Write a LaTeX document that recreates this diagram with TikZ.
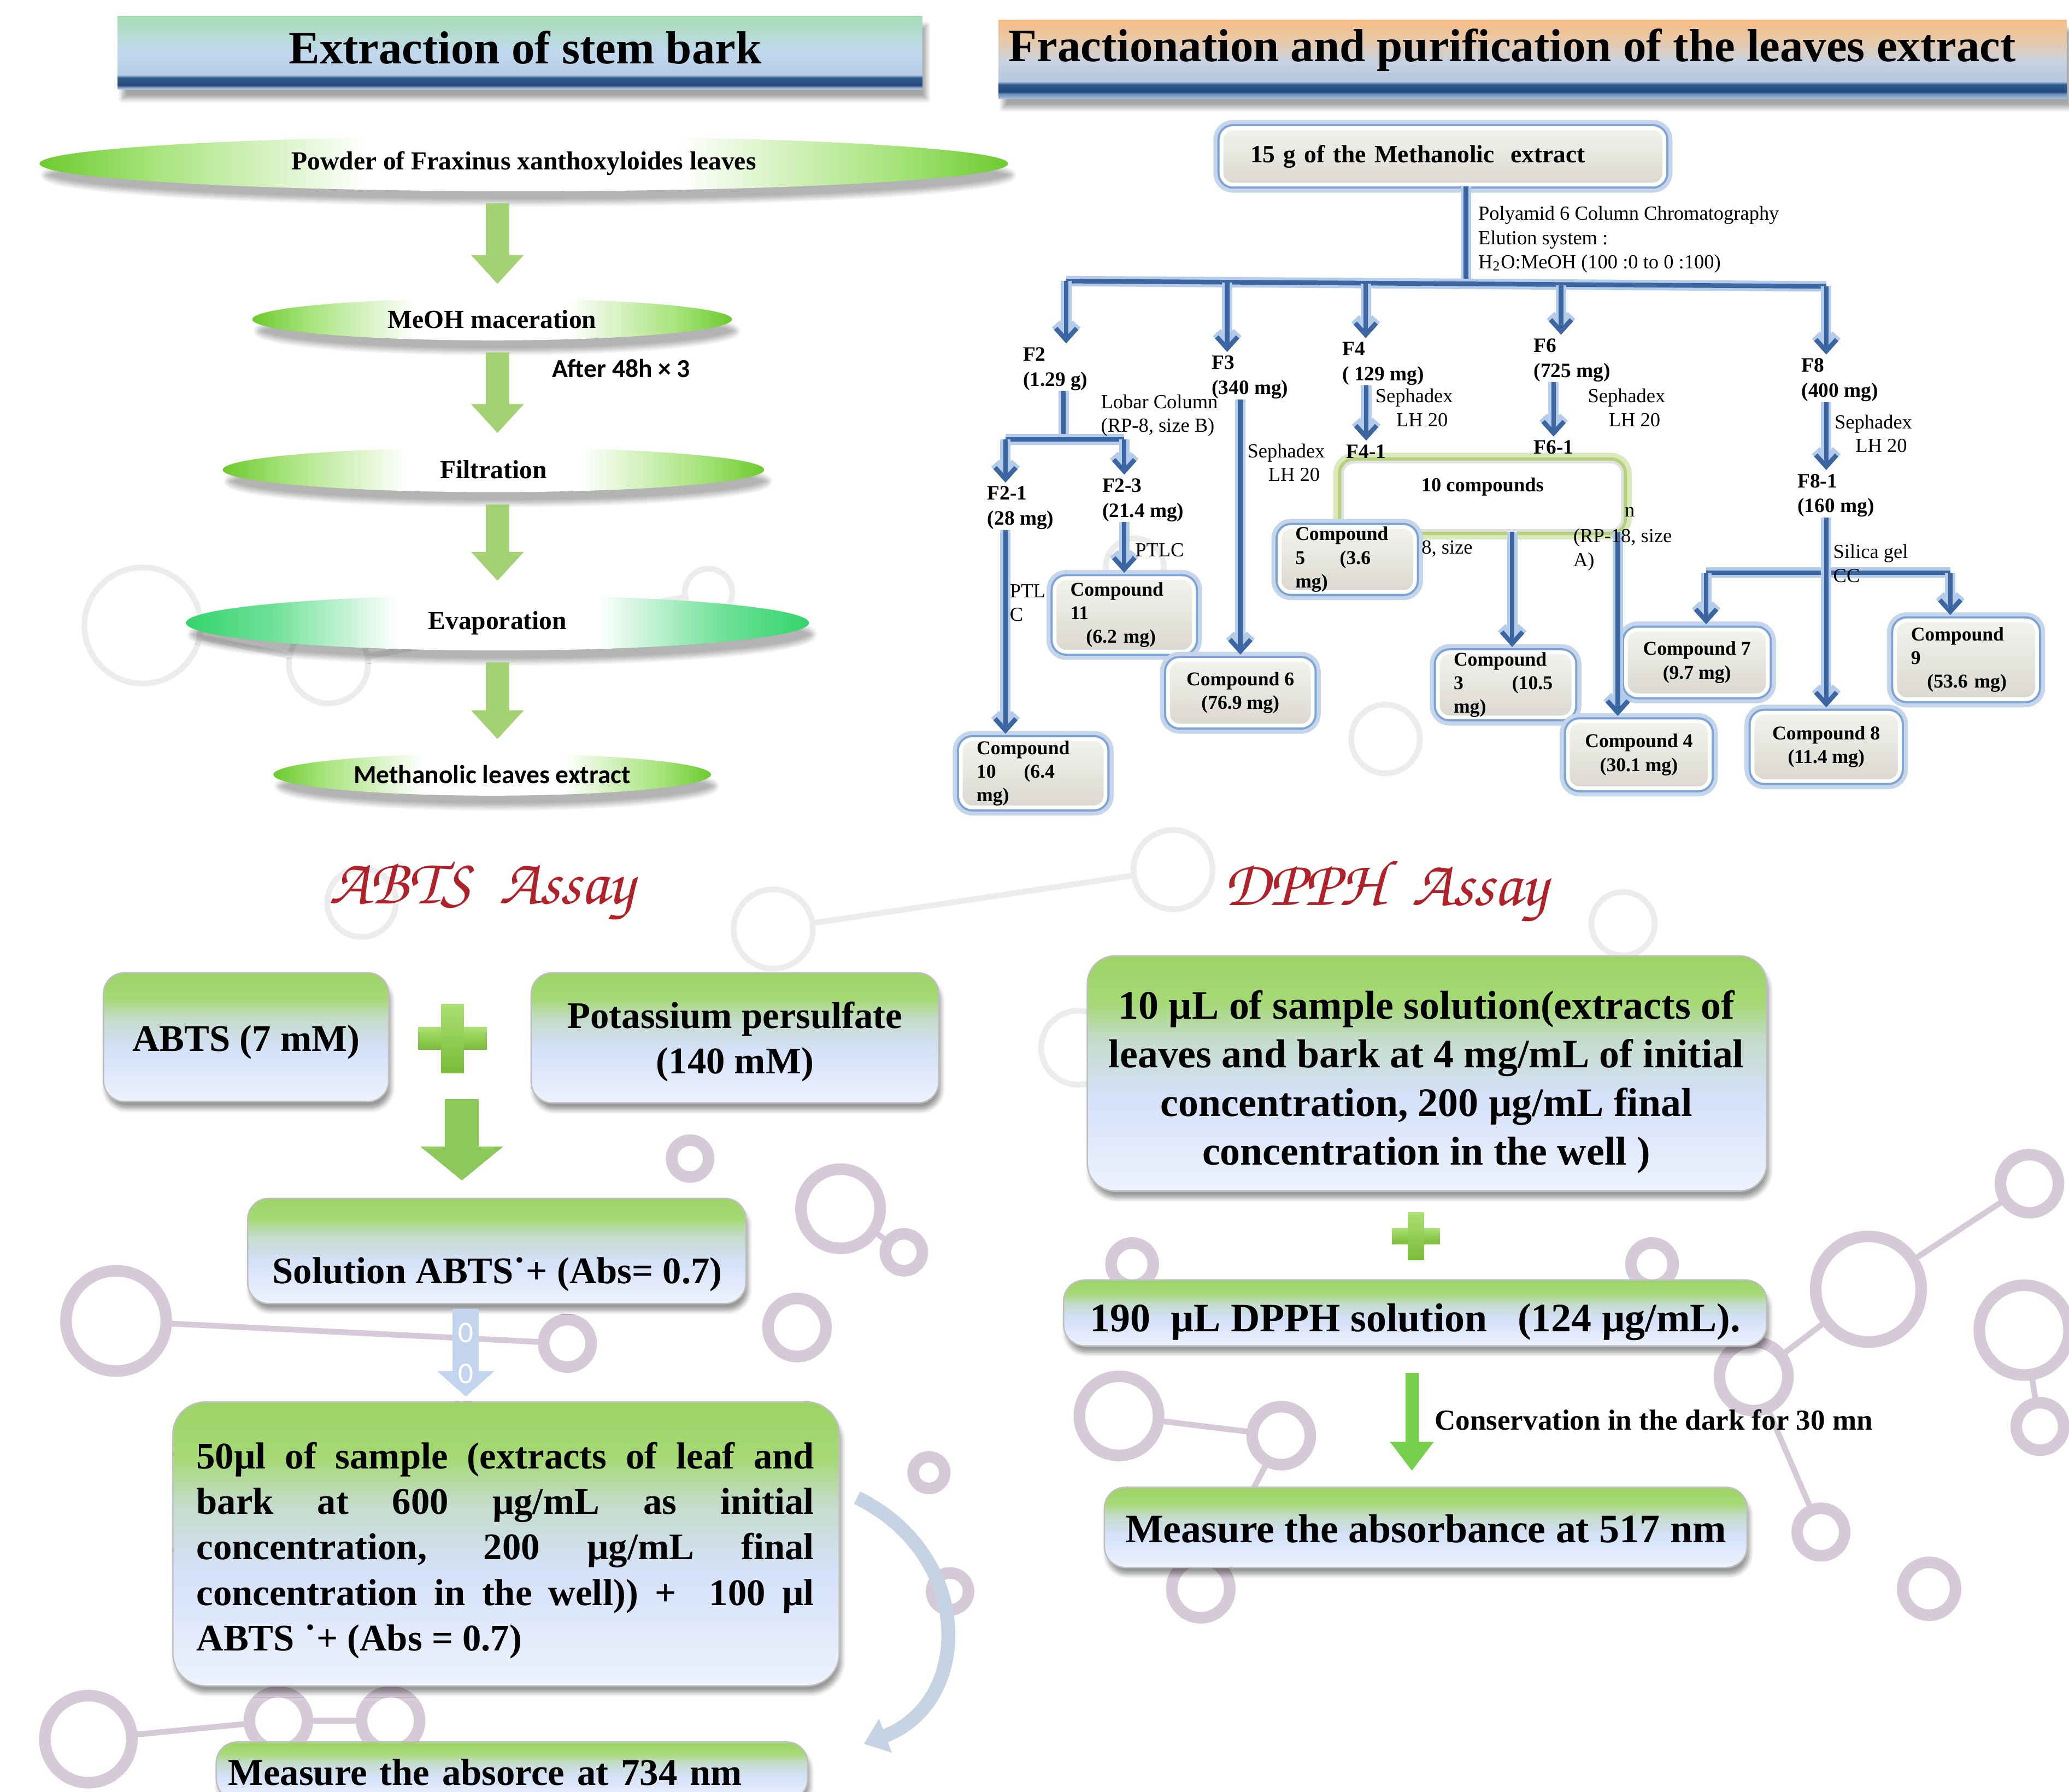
\documentclass[tikz,border=0pt]{standalone}
\usepackage[T1]{fontenc}
\usepackage{fontspec}
\setmainfont{Liberation Serif}
\newfontfamily\calfont{Carlito}
\usetikzlibrary{arrows.meta,shapes.geometric,shadows.blur,calc}
\hbadness=10000

\definecolor{treeblue}{HTML}{3B66A2}
\definecolor{treeglow}{HTML}{B4CBEA}
\definecolor{boxglow}{HTML}{7EA4D4}
\definecolor{tenglow}{HTML}{B5D27A}
\definecolor{cmptop}{HTML}{F3F2ED}
\definecolor{cmpbot}{HTML}{DAD8D0}
\definecolor{leafgreen}{HTML}{8BDB52}
\definecolor{leafdark}{HTML}{6CCB2E}
\definecolor{evapgreen}{HTML}{33D46C}
\definecolor{arrowgreen}{HTML}{A3D173}
\definecolor{bigarrowgreen}{HTML}{8CC85A}
\definecolor{paleblue}{HTML}{C3D5EE}
\definecolor{curveblue}{HTML}{C6D3E3}
\definecolor{plustop}{HTML}{AADF72}
\definecolor{plusbot}{HTML}{79BC38}
\definecolor{assayred}{HTML}{B02229}
\definecolor{ringpurple}{HTML}{D6C9D8}
\definecolor{ringgrey}{HTML}{ECECEC}
\definecolor{gbA}{HTML}{EDF2FD}
\definecolor{gbB}{HTML}{D5E1F9}
\definecolor{gbC}{HTML}{C4DCCB}
\definecolor{gbD}{HTML}{A6D975}
\definecolor{gbE}{HTML}{9CD468}
\definecolor{blA}{HTML}{C3D3E6}
\definecolor{blB}{HTML}{7D9DC6}
\definecolor{blC}{HTML}{24497A}
\definecolor{blD}{HTML}{2F5A8E}
\definecolor{blE}{HTML}{B4CCE6}
\definecolor{blF}{HTML}{C2D9EE}
\definecolor{blG}{HTML}{A7DDB4}
\definecolor{brA}{HTML}{A8C0DE}
\definecolor{brB}{HTML}{6A8DBD}
\definecolor{brC}{HTML}{22487C}
\definecolor{brD}{HTML}{2E5A90}
\definecolor{brE}{HTML}{B5C7DF}
\definecolor{brF}{HTML}{C7D2E2}
\definecolor{brG}{HTML}{E8C9A8}
\definecolor{brH}{HTML}{F6BC86}

\pgfdeclarehorizontalshading{lensshade}{100bp}{color(0bp)=(leafdark); color(25bp)=(leafdark);
  color(31bp)=(leafgreen!75); color(42bp)=(white); color(58bp)=(white);
  color(69bp)=(leafgreen!75); color(75bp)=(leafdark); color(100bp)=(leafdark)}
\pgfdeclarehorizontalshading{lensteal}{100bp}{color(0bp)=(evapgreen); color(25bp)=(evapgreen);
  color(32bp)=(evapgreen!70); color(42bp)=(white); color(58bp)=(white);
  color(68bp)=(evapgreen!70); color(75bp)=(evapgreen); color(100bp)=(evapgreen)}
\pgfdeclareverticalshading{bannerleft}{100bp}{color(0bp)=(blA); color(25bp)=(blA);
  color(26.5bp)=(blB); color(28bp)=(blC); color(33bp)=(blD); color(35bp)=(blE);
  color(50bp)=(blF); color(75bp)=(blG); color(100bp)=(blG)}
\pgfdeclareverticalshading{bannerright}{100bp}{color(0bp)=(brA); color(25bp)=(brA);
  color(28bp)=(brB); color(29.5bp)=(brC); color(34bp)=(brD); color(36bp)=(brE);
  color(48bp)=(brF); color(62bp)=(brG); color(75bp)=(brH); color(100bp)=(brH)}
\pgfdeclareverticalshading{gbshade}{100bp}{color(0bp)=(gbA); color(25bp)=(gbA); color(45bp)=(gbB);
  color(57bp)=(gbC); color(65bp)=(gbD); color(75bp)=(gbE); color(100bp)=(gbE)}

\begin{document}
\begin{tikzpicture}[
  x=0.02cm,y=-0.02cm,
  sz/.style 2 args={minimum width=#1*0.5669pt,minimum height=#2*0.5669pt},
  banner/.style={rectangle,inner sep=0pt,
    blur shadow={shadow xshift=2pt,shadow yshift=-4pt,shadow opacity=35,shadow blur steps=8}},
  title/.style={font=\bfseries\fontsize{20}{24}\selectfont,inner sep=0pt},
  lens/.style={ellipse,shading=lensshade,inner sep=0pt,
    font=\bfseries\fontsize{11.2}{13}\selectfont,
    blur shadow={shadow xshift=2pt,shadow yshift=-5pt,shadow opacity=30,shadow blur steps=8}},
  garrow/.style={draw=arrowgreen,line width=10.2pt,-{Triangle[width=22pt,length=12.5pt]},
    shorten <=5pt,shorten >=6pt},
  tree/.style={draw=treeblue,line width=2pt,preaction={draw=treeglow,line width=4.5pt}},
  treearr/.style={tree,-{Straight Barb[length=5pt,width=9pt]},shorten >=1.5pt},
  cmp/.style={rounded corners=5pt,top color=cmptop,bottom color=cmpbot,draw=white,line width=1.6pt,
    preaction={draw=boxglow!45,line width=7pt},preaction={draw=boxglow,line width=3.5pt},
    inner xsep=6.8pt,inner ysep=0pt,font=\bfseries\fontsize{8.4}{10.2}\selectfont},
  tenbox/.style={rounded corners=5pt,fill=white,draw=black!12,line width=1.2pt,
    preaction={draw=tenglow!50,line width=8pt},preaction={draw=tenglow,line width=4pt},
    inner sep=0pt,font=\bfseries\fontsize{8.6}{10}\selectfont},
  flab/.style={font=\bfseries\fontsize{8.8}{10.8}\selectfont,align=left,inner sep=0pt,anchor=west},
  note/.style={font=\fontsize{8.6}{10.2}\selectfont,align=left,inner sep=0pt,anchor=west},
  gbox/.style={rounded corners=9pt,shading=gbshade,draw=black!25,line width=0.6pt,
    blur shadow={shadow xshift=1pt,shadow yshift=-3pt,shadow opacity=40,shadow blur steps=6},
    align=center,inner sep=0pt,font=\bfseries\fontsize{16.2}{19.6}\selectfont},
  dfont/.style={font=\bfseries\fontsize{17.4}{21}\selectfont},
  boxtext/.style={font=\bfseries\fontsize{16.2}{19.6}\selectfont,inner sep=0pt,align=center},
  assay/.style={font=\fontencoding{T1}\fontfamily{pzc}\fontseries{mb}\fontshape{it}\fontsize{28}{30}\selectfont,
    text=assayred,inner sep=0pt},
  plus/.style={top color=plustop,bottom color=plusbot},
  bigarrow/.style={draw=bigarrowgreen,line width=14.7pt,-{Triangle[width=35pt,length=14.7pt]},shorten >=7.4pt},
  palearrow/.style={draw=paleblue,line width=11.3pt,-{Triangle[width=24pt,length=11pt]},
    shorten <=2pt,shorten >=2pt},
  thinarrow/.style={draw=bigarrowgreen!85!green,line width=5.7pt,-{Triangle[width=18pt,length=12.5pt]},
    shorten <=11.3pt,shorten >=6.8pt},
  curvearrow/.style={draw=curveblue,line width=6pt,-{Triangle[width=15pt,length=10pt]}},
  ringP/.style={draw=ringpurple,line width=5pt},
  ringG/.style={draw=ringgrey,line width=2.5pt}
]
\useasboundingbox (0,0) rectangle (1568,1358);
\clip (0,0) rectangle (1568,1358);

% background molecules
\foreach \x/\y/\r in {108/474/44,249/503/30,537/449/18,586/704/30,274/684/26,889/659/30,
  817/794/28,1230/700/24,1050/560/26,860/430/22}
  \draw[ringG] (\x,\y) circle[radius=\r];
\foreach \xa/\ya/\ra/\xb/\yb/\rb in {108/474/44/249/503/30,249/503/30/537/449/18,586/704/30/889/659/30}
  \draw[ringG,shorten <=\ra*0.5669pt,shorten >=\rb*0.5669pt] (\xa,\ya) -- (\xb,\yb);
\foreach \x/\y/\r in {88/1001/38,67/1318/33,211/1304/22,296/1304/22,604/1006/22,637/916/30,
  523/878/14,685/949/14,704/1116/12,720/1206/14,848/1073/30,858/958/16,971/1088/22,
  910/1204/22,1416/977/40,1538/897/22,1534/1008/34,1329/1043/26,1252/958/16,1380/1161/18,
  1546/1081/18,1462/1204/20,430/1018/18}
  \draw[ringP] (\x,\y) circle[radius=\r];
\foreach \xa/\ya/\ra/\xb/\yb/\rb in {1416/977/40/1538/897/22,1416/977/40/1329/1043/26,
  1534/1008/34/1546/1081/18,637/916/30/685/949/14,848/1073/30/971/1088/22,971/1088/22/910/1204/22,
  67/1318/33/211/1304/22,211/1304/22/296/1304/22,88/1001/38/430/1018/18,1329/1043/26/1380/1161/18}
  \draw[ringP,line width=2.5pt,shorten <=\ra*0.5669pt,shorten >=\rb*0.5669pt] (\xa,\ya) -- (\xb,\yb);

% extraction of stem bark
\node[banner,shading=bannerleft,sz={612}{56}] (banL) at (394,40) {};
\node[title] (titL) at (398,36) {Extraction of stem bark};
\node[lens,sz={737}{42}] (pw) at (397,124) {Powder of Fraxinus xanthoxyloides leaves};
\node[lens,sz={365}{32}] (meoh) at (373,242) {MeOH maceration};
\node[lens,sz={412}{34}] (filt) at (374,356) {Filtration};
\node[lens,shading=lensteal,sz={474}{42}] (evap) at (377,472) {Evaporation};
\node[lens,sz={333}{32},font=\calfont\bfseries\fontsize{11.2}{13}\selectfont] (mle) at (373,587)
  {Methanolic leaves extract};
\node[anchor=west,inner sep=0pt,font=\calfont\bfseries\fontsize{11.2}{13}\selectfont] (after)
  at (418,279) {After 48h × 3};
\coordinate (gx) at (377,0);
\draw[garrow] (gx |- pw.south) -- (gx |- meoh.north);
\draw[garrow] (gx |- meoh.south) -- (gx |- filt.north);
\draw[garrow] (gx |- filt.south) -- (gx |- evap.north);
\draw[garrow] (gx |- evap.south) -- (gx |- mle.north);

% fractionation tree
\node[banner,shading=bannerright,sz={813}{60}] (banR) at (1161.5,45) {};
\node[title] (titR) at (1146,38) {Fractionation and purification of the leaves extract};
\node[cmp,sz={337}{43},text width=166pt,align=left,inner xsep=12.5pt,
  font=\bfseries\fontsize{10.7}{12}\selectfont] (meth) at (1093.5,118.5) {15 g of the Methanolic\ \ extract};
\node[tenbox,sz={213}{52},text depth=10pt] (ten) at (1123.5,376) {10 compounds};

\node[flab] (f2) at (775,279.5) {F2\\(1.29 g)};
\node[flab] (f3) at (918,286) {F3\\(340 mg)};
\node[flab] (f4) at (1017,275.5) {F4\\( 129 mg)};
\node[flab] (f6) at (1162,273) {F6\\(725 mg)};
\node[flab] (f8) at (1365,288) {F8\\(400 mg)};
\node[flab] (f21) at (748,385) {F2-1\\(28 mg)};
\node[flab] (f23) at (835,379) {F2-3\\(21.4 mg)};
\node[flab] (f41) at (1020,342) {F4-1};
\node[flab] (f61) at (1162,339) {F6-1};
\node[flab] (f81) at (1362,375.5) {F8-1\\(160 mg)};

\coordinate (bus) at (1111,215);
\coordinate (t2) at (808,213);
\coordinate (t3) at (930,214);
\coordinate (t4) at (1035,215);
\coordinate (t6) at (1183,216);
\coordinate (t8) at (1384,217);
\coordinate (s2) at (806,333);
\coordinate (s21) at (762,333);
\coordinate (s23) at (852,333);
\coordinate (s7) at (1293,434);
\coordinate (s9) at (1478,434);
\coordinate (v3) at (1146,0);
\coordinate (v4) at (1226,0);

\draw[tree] (meth.south -| bus) -- (bus);
\draw[tree] (t2) -- (t8);
\draw[treearr] (t2) -- (t2 |- f2.north);
\draw[treearr] (t3) -- (t3 |- f3.north);
\draw[treearr] (t4) -- (t4 |- f4.north);
\draw[treearr] (t6) -- (t6 |- f6.north);
\draw[treearr] (t8) -- (t8 |- f8.north);
\draw[tree] (s2 |- f2.south) -- (s2);
\draw[tree] (s21) -- (s23);
\draw[treearr] (s21) -- (s21 |- f21.north);
\draw[treearr] (s23) -- (s23 |- f23.north);
\draw[treearr] (f4.south -| f41.north) -- (f41.north);
\draw[treearr] (f6.south -| f61.north) -- (f61.north);
\draw[treearr] (t8 |- f8.south) -- (t8 |- f81.north);
\draw[tree] (s7) -- (s9);

\node[cmp,sz={106}{56},text width=46.5pt,align=left] (c11) at (852,466) {Compound\\11\\\hspace*{6.8pt}(6.2 mg)};
\node[cmp,sz={110}{52},text width=48.8pt,align=left] (c10) at (783,586) {Compound\\10\hspace{12pt}(6.4\\mg)};
\node[cmp,sz={110}{50},align=center] (c6) at (940,525) {Compound 6\\(76.9 mg)};
\node[cmp,sz={103}{46},text width=44.8pt,align=left] (c5) at (1021,424) {Compound\\5\hspace{15pt}(3.6\\mg)};
\node[cmp,sz={103}{48},text width=44.8pt,align=left] (c3) at (1141,519) {Compound\\3\hspace{21pt}(10.5\\mg)};
\node[cmp,sz={108}{51},align=center] (c4) at (1242,572) {Compound 4\\(30.1 mg)};
\node[cmp,sz={108}{50},align=center] (c7) at (1286,502) {Compound 7\\(9.7 mg)};
\node[cmp,sz={112}{52},align=center] (c8) at (1384,566) {Compound 8\\(11.4 mg)};
\node[cmp,sz={108}{60},text width=47.6pt,align=left] (c9) at (1490,500) {Compound\\9\\\hspace*{7pt}(53.6 mg)};

\draw[treearr] (s21 |- f21.south) -- (s21 |- c10.north);
\draw[treearr] (f23.south -| c11.north) -- (c11.north);
\draw[treearr] (f3.south -| c6.north) -- (c6.north);
\draw[treearr] (t8 |- f81.south) -- (c8.north);
\draw[treearr] (s7) -- (s7 |- c7.north);
\draw[treearr] (s9) -- (s9 |- c9.north);
\draw[treearr] (v3 |- ten.south) -- (v3 |- c3.north);
\draw[treearr] (v4 |- ten.south) -- (v4 |- c4.north);

% notes over the tree
\node[note,font=\fontsize{8.6}{10.5}\selectfont] (poly) at (1120,181.5)
  {Polyamid 6 Column Chromatography\\Elution system :\\H\textsubscript{2}O:MeOH (100 :0 to 0 :100)};
\node[note] (lobar) at (834,315) {Lobar Column\\(RP-8, size B)};
\node[note] (seph3) at (945,350.5) {Sephadex\\\hspace*{9pt}LH 20};
\node[note] (seph4) at (1042,309) {Sephadex\\\hspace*{9pt}LH 20};
\node[note] (seph6) at (1203,309) {Sephadex\\\hspace*{9pt}LH 20};
\node[note] (seph8) at (1390,328.5) {Sephadex\\\hspace*{9pt}LH 20};
\node[note] (ptlc) at (860,417) {PTLC};
\node[note] (ptlcb) at (765,457) {PTL\\C};
\node[note] (silica) at (1389,427) {Silica gel\\CC};
\node[note] (frag1) at (1077,416) {8, size};
\node[note] (frag2) at (1231,388) {n};
\node[note] (frag3) at (1192,416.5) {(RP-18, size\\A)};

% ABTS assay
\node[assay] (abtsT) at (365,676) {ABTS\ \ Assay};
\node[gbox,sz={217}{98},text height=13.8pt,text depth=1.6pt] (abts) at (186.5,786) {ABTS (7 mM)};
\node[gbox,sz={310}{99}] (pers) at (557,786.5) {};
\node[boxtext] (persT) at (557,789.5) {Potassium persulfate\\(140 mM)};
\shade[plus] (317,778.5) rectangle (369,795.5);
\shade[plus] (334.5,761) rectangle (351.5,813);
\node[gbox,sz={379}{80}] (sol) at (376.5,948) {};
\node[boxtext] (solT) at (377,966) {Solution ABTS˙+ (Abs= 0.7)};
\node[gbox,sz={507}{216},rounded corners=14pt] (mix) at (383.5,1170) {};
\node[boxtext,text width=266.5pt,align=justify] (mixT) at (383,1175)
  {50µl of sample (extracts of leaf and\linebreak bark at 600 µg/mL as initial\linebreak
   concentration, 200 µg/mL final\linebreak concentration in the well)) + \ 100 µl\linebreak
   ABTS ˙+ (Abs = 0.7)};
\node[gbox,sz={450}{44},text width=244.9pt,align=left,inner xsep=5.1pt,
  text height=13.8pt,text depth=1.6pt] (meas) at (388,1342) {Measure the absorce at 734 nm};
\coordinate (mixtop) at (350,833);
\coordinate (px) at (353,0);
\draw[bigarrow] (mixtop) -- (sol.north -| mixtop);
\draw[palearrow] (px |- sol.south) -- (px |- mix.north);
\node[text=white,inner sep=0pt,font=\calfont\fontsize{13}{13}\selectfont] (z1) at (353,1010) {0};
\node[text=white,inner sep=0pt,font=\calfont\fontsize{13}{13}\selectfont] (z2) at (353,1041) {0};
\draw[curvearrow] ($(mix.east)+(13,-35)$) .. controls (738,1178) and (738,1290) .. ($(meas.north east)+(42,2)$);

% DPPH assay
\node[assay] (dpphT) at (1050,676) {DPPH\ \ Assay};
\node[gbox,sz={517}{179},rounded corners=12pt] (smp) at (1081.5,813.5) {};
\node[boxtext,dfont] (smpT) at (1081,820)
  {10 µL of sample solution(extracts of\\leaves and bark at 4 mg/mL of initial\\concentration, 200 µg/mL final\\concentration in the well )};
\shade[plus] (1055,931) rectangle (1091,943);
\shade[plus] (1067,919) rectangle (1079,955);
\node[gbox,dfont,sz={535}{50},text height=17.7pt,text depth=1.7pt] (dpph) at (1072.5,995)
  {190 \ µL DPPH solution \ \ (124 µg/mL).};
\node[gbox,dfont,sz={489}{61},text height=14.8pt,text depth=1.7pt] (absd) at (1080.5,1157.5)
  {Measure the absorbance at 517 nm};
\coordinate (dx) at (1070,0);
\draw[thinarrow] (dx |- dpph.south) -- (dx |- absd.north);
\node[anchor=west,inner sep=0pt,font=\bfseries\fontsize{12.5}{14}\selectfont] (cons) at (1087,1076)
  {Conservation in the dark for 30 mn};
\end{tikzpicture}
\end{document}
